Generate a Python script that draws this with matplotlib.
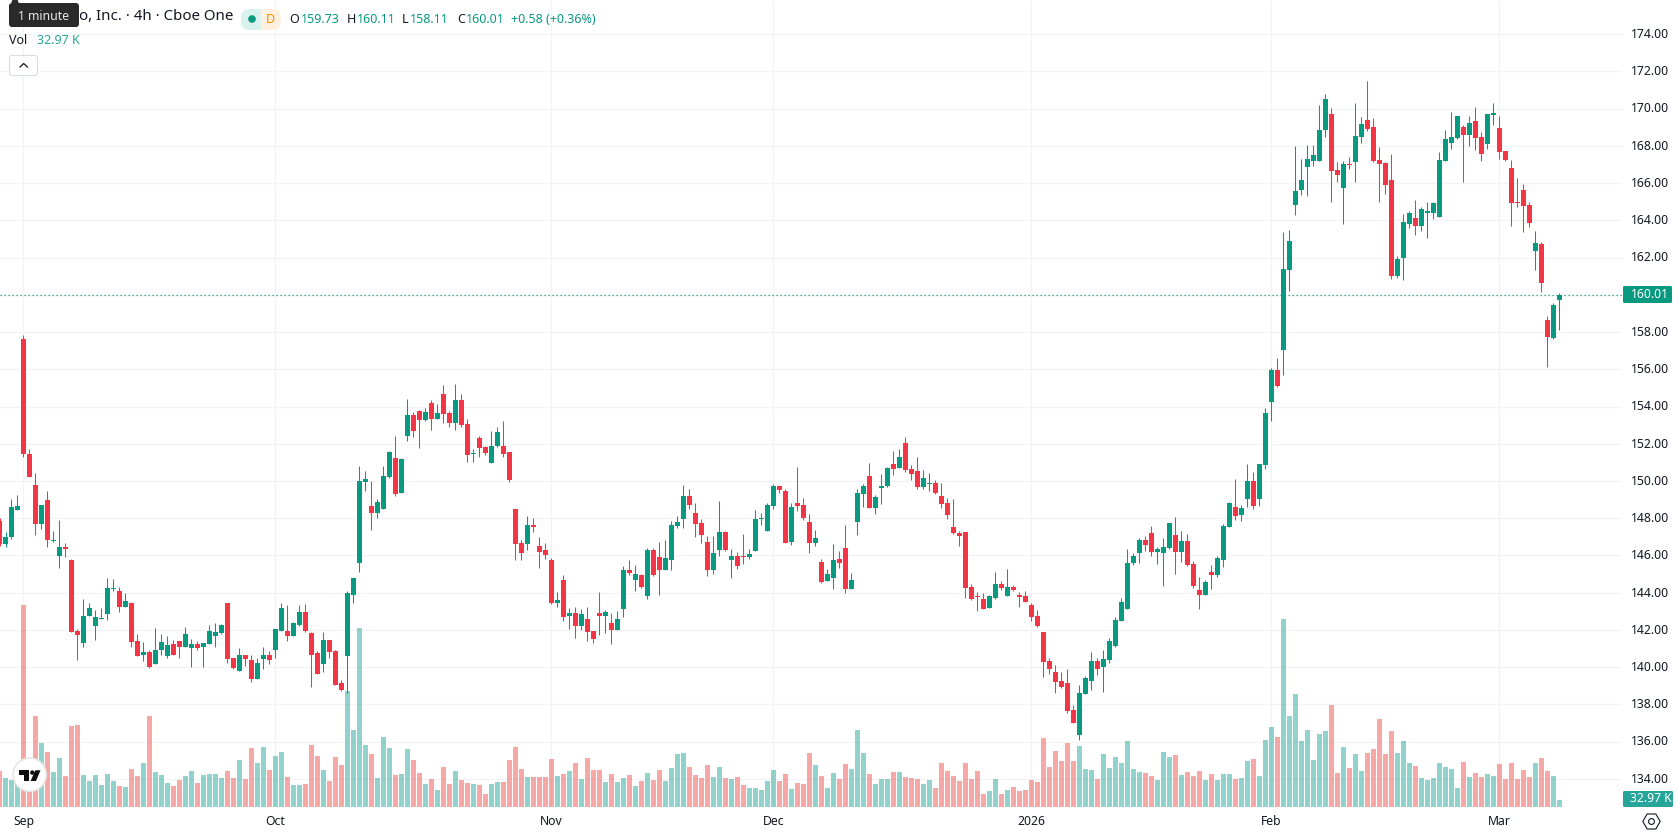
import numpy as np
import matplotlib
matplotlib.use("Agg")
import matplotlib.pyplot as plt
from matplotlib.patches import Circle, FancyBboxPatch, Polygon, Rectangle

plt.rcParams["font.family"] = ["Noto Sans", "DejaVu Sans"]

# Four-hour session data, oldest first.
opens = [
    147.85,146.63,146.99,148.44,157.63,151.45,149.78,147.68,148.97,146.77,
    145.96,146.45,145.74,141.92,141.28,142.73,142.19,142.6,142.84,144.18,
    144.07,143.21,143.43,141.38,140.63,140.79,140.15,140.9,140.58,141.22,
    141.38,141.11,141.01,141.22,141.11,141.22,141.65,141.81,143.43,140.47,
    139.82,140.68,140.36,139.34,140.42,140.68,140.9,141.97,141.97,141.65,
    142.24,142.94,141.81,140.74,140.15,141.44,140.85,139.13,140.58,143.86,
    145.58,149.94,148.65,148.28,148.49,150.21,151.23,149.35,152.42,153.54,
    153.76,153.28,154.19,153.33,154.68,153.66,153.12,154.35,153.07,151.46,
    152.31,151.83,150.97,151.89,151.89,151.56,148.5,146.68,146.63,147.65,
    146.52,146.3,145.77,143.46,144.69,142.76,142.92,142.23,142.6,141.96,
    142.92,142.76,142.39,142.01,143.14,145.23,144.69,144.96,143.84,146.3,
    145.93,145.23,145.77,147.59,147.97,149.2,148.29,147.75,146.73,145.23,
    146.3,147.27,145.77,145.98,145.98,145.93,146.25,147.97,147.32,148.67,
    149.74,149.47,146.73,148.83,148.72,147.81,146.68,145.66,144.64,144.8,
    145.82,146.38,144.18,147.78,149.28,150.25,148.53,149.6,149.71,150.89,
    150.68,152.02,150.62,150.52,149.66,149.82,149.87,149.17,148.8,147.51,
    147.19,147.24,144.29,143.81,143.65,143.16,143.7,144.45,143.81,144.29,
    143.86,143.81,143.32,142.73,141.87,140.32,139.73,139.25,139.14,137.69,
    136.35,138.55,139.25,140.32,139.99,140.37,141.12,142.47,143.11,145.58,
    146.11,146.81,147.19,146.17,146.11,146.38,147.08,146.17,146.76,145.52,
    144.13,143.86,145.1,144.93,145.74,147.51,148.58,148.15,149.01,149.98,
    149.05,150.88,154.26,155.97,157.03,161.32,164.81,165.61,166.85,167.17,
    167.17,168.83,169.69,166.69,165.72,167.01,167.12,168.46,169.37,168.99,
    167.22,167.06,166.15,161.0,161.96,163.79,164.11,163.68,164.38,164.38,
    164.16,167.17,168.14,168.4,168.99,168.57,169.32,168.46,168.08,169.64,
    168.94,167.71,166.79,164.97,165.61,164.81,162.34,162.72,158.64,157.67,159.73,
]
highs = [
    148.0,147.25,149.03,149.24,157.85,151.72,150.43,148.71,149.46,147.31,
    147.9,146.66,145.8,142.03,143.64,143.43,143.05,143.16,144.77,144.72,
    144.29,143.96,143.48,141.76,141.33,140.95,142.08,141.76,141.65,141.44,
    141.38,142.14,141.54,141.38,141.28,142.24,142.35,142.3,143.43,140.47,
    141.01,140.68,140.68,140.52,141.06,140.85,142.03,143.43,143.32,142.41,
    143.32,143.37,141.87,140.85,141.87,141.44,140.95,139.29,144.07,144.77,
    150.8,150.53,150.0,149.03,150.8,151.61,152.42,151.23,154.4,153.71,
    153.81,153.92,154.35,154.14,155.16,153.76,155.21,154.68,153.33,151.72,
    152.42,151.89,152.69,152.91,153.23,151.56,148.5,146.84,148.13,148.02,
    147.0,146.68,145.87,144.05,144.96,143.19,143.25,143.14,143.25,141.96,
    144.05,143.08,142.92,143.03,145.45,145.77,145.5,145.02,146.41,146.41,
    146.73,146.84,147.86,148.13,149.79,149.58,148.83,147.97,147.06,147.06,
    148.93,147.32,146.36,146.2,147.16,146.36,148.45,148.29,148.83,149.85,
    149.74,149.58,148.83,150.76,149.09,148.24,147.38,145.82,145.28,146.63,
    146.25,147.62,145.04,149.55,149.82,150.94,149.23,150.35,150.73,151.59,
    151.7,152.34,150.84,151.27,150.57,150.41,150.03,149.87,149.07,149.01,
    147.3,147.24,144.45,144.02,143.97,143.86,145.1,144.61,145.26,144.4,
    144.02,144.08,143.43,143.06,141.87,140.48,140.1,139.73,139.89,137.96,
    139.03,139.51,140.8,140.48,140.91,141.55,142.68,143.7,146.33,146.11,
    146.92,147.03,147.56,146.44,146.92,147.72,148.05,147.3,147.13,145.69,
    144.83,144.67,145.47,145.95,147.67,148.85,150.09,148.69,150.89,150.46,
    150.93,153.94,156.08,156.62,163.36,163.47,167.97,167.28,168.03,168.03,
    170.18,170.77,170.01,167.12,167.17,167.38,170.28,169.53,171.46,169.48,
    167.92,167.12,167.55,162.07,164.33,164.49,165.08,164.7,164.97,164.97,
    167.65,168.83,169.8,169.58,169.1,169.58,170.07,168.73,169.69,170.28,
    169.58,167.71,167.22,166.26,165.94,164.97,163.41,162.82,158.85,159.55,160.11,
]
lows = [
    146.5,146.47,146.9,148.44,151.29,150.21,147.09,147.42,146.45,146.72,
    145.31,145.91,141.89,140.36,141.11,142.73,141.44,142.57,142.51,144.07,
    142.94,143.21,141.06,140.58,140.31,139.93,140.15,140.68,140.47,140.68,
    140.47,141.11,139.99,140.95,139.99,141.22,141.06,141.76,140.2,139.88,
    139.82,140.09,139.18,139.34,139.88,140.15,140.52,141.97,141.38,141.65,
    142.19,141.87,138.91,139.66,139.72,140.52,139.02,138.7,138.59,143.43,
    145.09,149.46,147.36,148.01,148.49,150.16,149.19,149.35,152.15,152.36,
    151.77,153.23,152.74,153.33,153.12,152.91,152.74,152.91,151.03,151.03,
    151.3,151.4,150.97,151.83,151.3,149.95,145.77,145.77,146.3,147.27,
    145.34,145.82,143.41,143.25,142.49,142.06,141.58,142.01,141.42,141.31,
    141.74,141.85,141.26,142.01,142.71,144.96,144.1,144.26,143.67,144.91,
    143.89,145.23,145.23,147.48,147.48,148.5,147.0,146.68,144.91,145.02,
    145.98,146.25,144.8,145.28,145.55,145.82,146.25,147.65,147.32,148.5,
    149.36,146.68,146.57,148.4,147.91,146.14,146.52,144.53,144.64,144.21,
    145.34,143.97,144.18,147.08,148.58,148.53,148.21,148.74,149.66,150.3,
    150.68,150.46,150.03,149.55,149.55,149.44,149.28,148.53,147.94,147.13,
    146.49,143.7,143.59,143.0,143.11,143.16,143.65,144.13,143.81,144.08,
    143.22,143.48,142.47,142.14,139.46,139.62,138.6,138.87,137.53,136.99,
    136.08,138.55,138.76,139.57,138.65,140.21,141.07,142.47,143.11,145.47,
    145.58,146.22,145.95,145.52,144.34,146.33,144.99,145.63,145.42,144.24,
    143.11,143.86,144.18,144.83,145.36,147.51,147.89,147.83,148.58,148.48,
    148.68,150.66,153.24,155.06,155.68,160.19,164.27,165.35,165.29,166.9,
    167.17,168.46,164.97,166.04,163.79,166.74,166.04,168.14,168.78,167.12,
    164.97,165.4,160.84,160.89,160.78,163.57,163.2,163.41,163.04,164.06,
    164.16,167.17,167.81,168.35,166.04,167.97,167.76,167.17,167.81,169.1,
    167.28,167.17,163.68,164.7,163.36,163.63,161.32,160.14,156.11,157.62,158.11,
]
closes = [
    146.63,146.98,148.6,148.65,151.45,150.21,147.68,148.71,146.82,146.82,
    146.45,146.34,141.89,141.71,142.73,143.16,142.67,142.66,144.23,144.23,
    143.21,143.53,141.33,140.58,140.79,139.99,140.9,141.33,141.17,140.68,
    141.11,141.76,141.22,141.01,141.28,141.92,141.87,142.24,140.42,139.93,
    140.68,140.42,139.34,140.2,140.68,140.36,142.03,143.16,141.65,142.35,
    142.94,141.97,140.68,139.66,141.44,140.79,139.02,138.75,143.96,144.77,
    150.0,150.1,148.28,148.87,150.27,151.56,149.3,151.18,153.54,152.68,
    153.28,153.71,153.33,153.66,153.6,153.12,154.35,153.01,151.4,151.51,
    151.78,151.51,151.89,152.64,151.46,150.06,146.63,146.14,147.65,147.54,
    146.2,146.04,143.46,143.62,142.71,142.92,142.23,142.87,141.9,141.53,
    142.76,142.98,142.01,142.6,145.23,145.07,145.02,144.32,146.3,144.96,
    145.23,145.87,147.65,147.81,149.2,148.72,147.7,147.11,145.23,146.14,
    147.27,146.3,145.98,145.45,145.93,146.09,147.97,148.02,148.72,149.74,
    149.52,146.68,148.61,148.67,148.02,146.68,146.95,144.59,145.02,145.77,
    145.61,144.18,144.67,149.33,149.71,148.53,149.12,149.71,150.68,150.62,
    151.27,150.57,150.35,149.66,150.14,149.87,149.33,148.74,148.15,147.19,
    147.03,144.24,143.65,143.75,143.11,143.81,144.45,144.24,144.29,144.13,
    143.75,143.48,142.68,142.2,140.26,139.89,139.19,138.92,137.64,136.99,
    138.6,139.41,140.32,139.89,140.43,141.39,142.52,143.48,145.58,145.95,
    146.81,146.54,146.17,146.33,146.44,147.72,146.17,146.76,145.47,144.34,
    143.86,144.56,144.93,145.85,147.56,148.8,148.1,148.53,149.98,148.64,
    150.93,153.67,155.97,155.12,161.37,162.88,165.56,166.15,167.28,167.49,
    168.83,170.5,166.63,166.42,167.01,166.96,168.51,169.16,168.89,167.17,
    167.01,165.88,161.0,161.91,163.9,164.38,163.68,164.59,164.49,164.92,
    167.22,168.35,168.46,169.58,168.57,169.21,168.4,167.55,169.69,169.75,
    167.65,167.22,164.92,164.92,164.75,163.84,162.77,160.62,157.72,159.44,160.01,
]
# Share volume per bar, in thousands.
volumes = [
    170,137,127,108,951,110,429,301,259,165,
    231,146,382,386,151,122,151,104,155,122,
    99,94,179,146,207,429,165,151,113,99,
    127,146,170,113,151,155,155,137,170,137,
    221,132,278,207,283,174,240,259,141,104,
    104,108,292,240,174,122,236,198,548,363,
    843,292,250,137,330,278,151,155,273,221,
    160,108,132,80,188,108,170,127,113,108,
    104,61,108,118,118,221,283,179,141,141,
    141,141,226,146,155,170,207,132,231,174,
    174,118,155,118,137,151,99,122,160,127,
    174,122,184,250,254,188,151,137,198,141,
    188,137,132,141,104,89,89,80,122,174,
    122,155,85,113,108,254,198,146,89,160,
    132,203,179,363,254,155,108,132,132,165,
    165,141,137,132,108,127,89,207,170,146,
    122,207,132,170,61,75,132,61,80,94,
    75,80,127,118,325,188,264,217,301,217,
    287,179,174,132,250,184,236,207,311,179,
    165,160,146,127,259,236,245,151,165,146,
    170,127,155,127,155,155,132,137,217,226,
    146,316,377,330,885,429,532,311,363,221,
    344,358,480,160,283,184,250,170,254,273,
    414,250,358,254,311,207,193,137,127,137,
    207,188,179,89,212,141,160,141,155,146,
    203,132,207,132,174,141,207,231,170,146,32.97,
]

first_bar = -4
month_bars = [0, 42, 88, 125, 168, 208, 246]
month_labels = ["Sep", "Oct", "Nov", "Dec", "2026", "Feb", "Mar"]
price_ticks = list(range(134, 176, 2))

last_price = 160.01
last_volume_label = "32.97 K"

UP, DOWN = "#089981", "#F23645"
VOL_UP, VOL_DOWN = "#26A69A", "#EF5350"
GRID = "#F2F3F5"
INK = "#131722"

W, H = 1678, 835
PANE_R, PANE_B = 1622, 807
STEP = 6.0
ORIGIN = 23.5
PX_PER_USD = 18.62
Y_172 = 71.35
K_PER_PX = 4.71

fig = plt.figure(figsize=(W / 100, H / 100), dpi=100, facecolor="white")
rect = [0, 1 - PANE_B / H, PANE_R / W, PANE_B / H]

ax_vol = fig.add_axes(rect, zorder=1)
ax = fig.add_axes(rect, zorder=2)
ax.patch.set_alpha(0)
for a in (ax, ax_vol):
    a.set_xlim(-ORIGIN / STEP, (PANE_R - ORIGIN) / STEP)
    a.axis("off")
ax.set_ylim(172 - (PANE_B - Y_172) / PX_PER_USD, 172 + Y_172 / PX_PER_USD)
ax_vol.set_ylim(0, PANE_B * K_PER_PX)

# Grid sits under the volume bars.
for p in price_ticks:
    ax_vol.plot([-10, 300], [(p - ax.get_ylim()[0]) * PX_PER_USD * K_PER_PX] * 2,
                color=GRID, lw=0.9, zorder=0, solid_capstyle="butt")
ax_vol.vlines(month_bars, 0, PANE_B * K_PER_PX, color=GRID, lw=0.9, zorder=0)
ax_vol.set_xlim(-ORIGIN / STEP, (PANE_R - ORIGIN) / STEP)

bars = np.arange(len(closes)) + first_bar
o, h, l, c = map(np.array, (opens, highs, lows, closes))
up = c >= o

bar_w = 5 / STEP
ax_vol.bar(bars[up], np.array(volumes)[up], width=bar_w, color=VOL_UP, alpha=0.5, lw=0, zorder=2)
ax_vol.bar(bars[~up], np.array(volumes)[~up], width=bar_w, color=VOL_DOWN, alpha=0.5, lw=0, zorder=2)

colors = np.where(up, UP, DOWN)
ax.vlines(bars, l, h, colors=colors, lw=0.75, zorder=3)
body_low = np.minimum(o, c)
body_h = np.maximum(np.abs(c - o), 1 / PX_PER_USD)
ax.bar(bars, body_h, bottom=body_low, width=bar_w, color=colors, lw=0, zorder=4)
ax.axhline(last_price, color=UP, lw=0.9, ls=(0, (1, 2.2)), zorder=5)

# Pixel-space layer for the price scale, time scale and header.
ui = fig.add_axes([0, 0, 1, 1], zorder=5)
ui.set_xlim(0, W)
ui.set_ylim(H, 0)
ui.axis("off")
ui.patch.set_alpha(0)


def price_y(p):
    return Y_172 + (172 - p) * PX_PER_USD


for p in price_ticks:
    ui.text(1631, price_y(p) + 0.3, f"{p:.2f}", fontsize=8.8, color=INK, va="center", ha="left")
for b, lab in zip(month_bars, month_labels):
    ui.text(ORIGIN + STEP * b, 821.5, lab, fontsize=8.8, color=INK, va="center", ha="center",
            fontweight="bold" if lab == "2026" else "normal")

ui.add_patch(FancyBboxPatch((1623, 286), 49, 17, boxstyle="round,pad=0,rounding_size=1.5",
                            fc=UP, ec="none", zorder=3))
ui.text(1631, 294.5, f"{last_price:.2f}", fontsize=8.8, color="white", va="center", ha="left", zorder=4)
ui.add_patch(FancyBboxPatch((1623, 791), 50, 16, boxstyle="round,pad=0,rounding_size=1.5",
                            fc=VOL_UP, ec="none", zorder=3))
ui.text(1630, 799, last_volume_label, fontsize=8.8, color="white", va="center", ha="left", zorder=4)

# Scale settings icon.
ui.plot([1650.7], [821], marker="H", ms=12.5, mfc="none", mec=INK, mew=0.8)
ui.plot([1650.7], [821], marker="o", ms=4.2, mfc="none", mec=INK, mew=0.8)

# Legend row.
ui.text(79, 17, "o, Inc. · 4h · Cboe One", fontsize=10.8, color=INK, va="center", ha="left", zorder=2)
ui.add_patch(FancyBboxPatch((9, 3), 70, 24, boxstyle="round,pad=0,rounding_size=3",
                            fc="#2A2A2A", ec="none", zorder=3))
ui.add_patch(Circle((15, 2.5), 3.5, fc="#2A2A2A", ec="none", zorder=3))
ui.text(43.5, 16, "1 minute", fontsize=8.8, color="#E8E8E8", va="center", ha="center", zorder=4)

ui.add_patch(FancyBboxPatch((241, 9), 20, 21, boxstyle="round,pad=0,rounding_size=9",
                            fc="#DAF2EE", ec="none", zorder=2))
ui.add_patch(FancyBboxPatch((261, 9), 20, 21, boxstyle="round,pad=0,rounding_size=9",
                            fc="#FFF0DF", ec="none", zorder=2))
ui.add_patch(Rectangle((252, 9), 9, 21, fc="#DAF2EE", ec="none", zorder=2))
ui.add_patch(Rectangle((261, 9), 9, 21, fc="#FFF0DF", ec="none", zorder=2))
ui.add_patch(Circle((252, 19), 3.8, fc=UP, ec="none", zorder=3))
ui.text(270, 19.5, "D", fontsize=9, color="#FB8C00", va="center", ha="center", fontweight="bold", zorder=3)

legend_row = [(289, "O", INK), (301, "159.73", UP), (347, "H", INK), (357, "160.11", UP),
              (402, "L", INK), (410, "158.11", UP), (457, "C", INK), (466, "160.01", UP),
              (511, "+0.58 (+0.36%)", UP)]
for x, s, col in legend_row:
    ui.text(x, 19.7, s, fontsize=9.0, color=col, va="center", ha="left")

ui.text(9, 40.5, "Vol", fontsize=9, color=INK, va="center", ha="left")
ui.text(36.7, 40.5, last_volume_label, fontsize=9, color=VOL_UP, va="center", ha="left")

ui.add_patch(FancyBboxPatch((9.5, 55.5), 28, 20, boxstyle="round,pad=0,rounding_size=2.5",
                            fc="white", ec="#DADCE0", lw=0.8, zorder=2))
ui.plot([20, 23.7, 27.4], [67, 63.5, 67], color=INK, lw=0.9, zorder=3)

# Logo badge.
ui.add_patch(Circle((29.7, 774.7), 16.6, fc="white", ec="#E6E6E6", lw=1.2, zorder=6))
ui.add_patch(Polygon([(19, 770.3), (29.3, 770.3), (29.3, 781), (24.4, 781), (24.4, 775), (19, 775)],
                     fc="#0F0F0F", ec="none", zorder=7))
ui.add_patch(Circle((32.3, 772.6), 2.2, fc="#0F0F0F", ec="none", zorder=7))
ui.add_patch(Polygon([(35.3, 770.3), (40.5, 770.3), (36, 781), (30.6, 781)],
                     fc="#0F0F0F", ec="none", zorder=7))

fig.savefig("out.png", dpi=100, facecolor="white")
